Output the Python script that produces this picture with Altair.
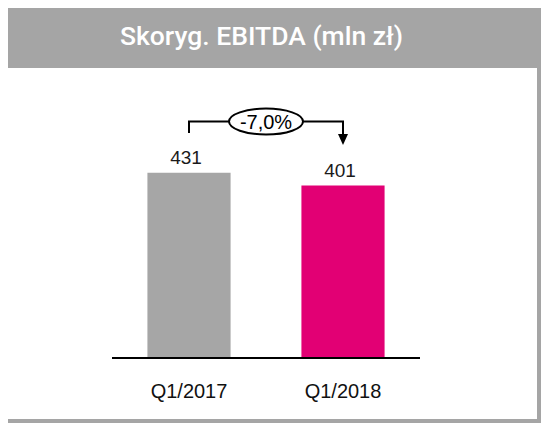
import altair as alt
import pandas as pd

# ---- data ----
categories = ["Q1/2017", "Q1/2018"]
values = [431, 401]
bar_colors = ["#a6a6a6", "#e20074"]
title_text = "Skoryg. EBITDA (mln zł)"

change = (values[1] - values[0]) / values[0] * 100
change_label = f"{change:.1f}%".replace(".", ",")

# ---- layout constants ----
W, H = 308, 350
Y_MAX = 814
BRACKET_Y = 550
LEFT_START = 523
RIGHT_END = 521
ARROW_Y = 508

df = pd.DataFrame({"cat": categories, "val": values, "color": bar_colors})
one = pd.DataFrame({"t": [title_text]})

xscale = alt.Scale(domain=categories, paddingInner=0.46, paddingOuter=0.23)
yscale = alt.Scale(domain=[0, Y_MAX], nice=False, zero=True)

white = alt.Chart(one).mark_rect(color="white").encode(
    x=alt.value(-104), x2=alt.value(425), y=alt.value(60), y2=alt.value(411)
)

bars = alt.Chart(df).mark_bar().encode(
    x=alt.X("cat:N", scale=xscale, sort=categories,
            axis=alt.Axis(title=None, labelAngle=0, domain=False, ticks=False,
                          labelPadding=23, labelFontSize=20, zindex=1,
                          labelFont="Liberation Sans", labelColor="#111111")),
    y=alt.Y("val:Q", scale=yscale, axis=None),
    color=alt.Color("color:N", scale=None),
)

baseline = alt.Chart(one).mark_rule(color="black", strokeWidth=2).encode(
    x=alt.value(0), x2=alt.value(W), y=alt.datum(0)
)

labels = alt.Chart(df).mark_text(
    font="Liberation Sans", fontSize=19,
    baseline="alphabetic", dy=-8.5, dx=-3, color="#1a1a1a"
).encode(x=alt.X("cat:N", sort=categories), y="val:Q", text="val:Q")

bracket_df = pd.DataFrame({
    "cat": [categories[0], categories[0], categories[1], categories[1]],
    "y": [LEFT_START, BRACKET_Y, BRACKET_Y, RIGHT_END],
    "o": [0, 1, 2, 3],
})
bracket = alt.Chart(bracket_df).mark_line(
    color="black", strokeWidth=2, strokeJoin="miter"
).encode(x=alt.X("cat:N", sort=categories), y="y:Q", order="o:Q")

ry, k = 0.351, 0.5523
ell_path = (
    f"M -1 0 C -1 {-ry*k:.4f} {-k:.4f} {-ry} 0 {-ry} "
    f"C {k:.4f} {-ry} 1 {-ry*k:.4f} 1 0 "
    f"C 1 {ry*k:.4f} {k:.4f} {ry} 0 {ry} "
    f"C {-k:.4f} {ry} -1 {ry*k:.4f} -1 0 Z"
)
ell_df = pd.DataFrame({"y": [BRACKET_Y], "t": [change_label]})
ellipse = alt.Chart(ell_df).mark_point(
    shape=ell_path, size=74 * 74, filled=True, fill="white",
    stroke="black", strokeWidth=2, opacity=1
).encode(x=alt.value(W / 2), y="y:Q")

ell_text = alt.Chart(ell_df).mark_text(
    font="Liberation Sans", fontSize=20, baseline="middle", color="black", dy=1
).encode(x=alt.value(W / 2), y="y:Q", text="t:N")

arrow_df = pd.DataFrame({"cat": [categories[1]], "y": [ARROW_Y]})
arrow = alt.Chart(arrow_df).mark_point(
    shape="M -1 -1.1 L 1 -1.1 L 0 1.1 Z", size=100, filled=True,
    color="black", opacity=1
).encode(x=alt.X("cat:N", sort=categories), y="y:Q")

title = alt.Chart(one).mark_text(
    font="Roboto", fontSize=26.5, fontWeight=500, color="white",
    baseline="alphabetic", align="center"
).encode(x=alt.value(149.5), y=alt.value(37), text="t:N")

chart = alt.layer(
    white, bars, baseline, labels, bracket, ellipse, ell_text, arrow, title
).properties(
    width=W, height=H,
    autosize="none",
    padding={"left": 104, "top": 0, "right": 121, "bottom": 65},
    background="#a5a5a5",
).configure_view(stroke=None)

chart.save("out.html", embed_options={"renderer": "svg", "actions": False})
